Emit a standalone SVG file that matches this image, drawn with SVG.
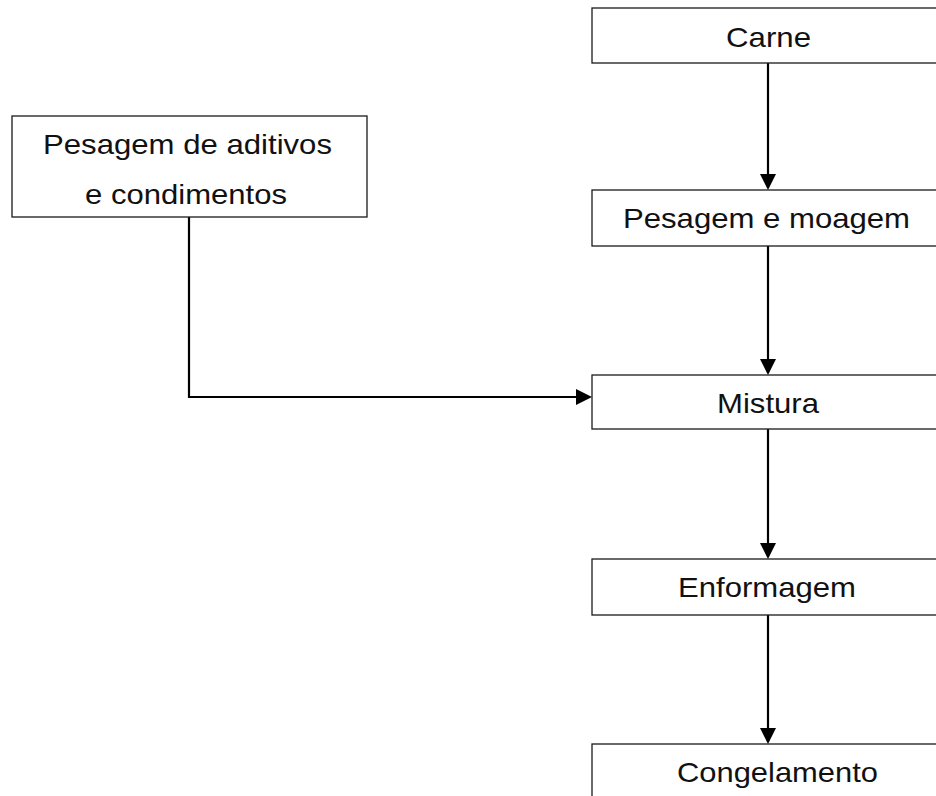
<svg xmlns="http://www.w3.org/2000/svg" width="936" height="796" viewBox="0 0 936 796">
<style>
.box{fill:#fff;stroke:#1a1a1a;stroke-width:1.3}
.lbl{font-family:"Liberation Sans",Arial,sans-serif;font-size:28px;fill:#111;text-anchor:middle}
.con{fill:none;stroke:#000;stroke-width:2.2}
</style>
<defs>
<marker id="ah" viewBox="0 0 16 16" refX="14" refY="8" markerWidth="16" markerHeight="16" markerUnits="userSpaceOnUse" orient="auto">
<path d="M0,0 L16,8 L0,16 Z" fill="#000"/>
</marker>
</defs>
<rect width="936" height="796" fill="#fff"/>
<g id="connectors">
<line class="con" x1="768" y1="63" x2="768" y2="188" marker-end="url(#ah)"/>
<line class="con" x1="768" y1="246" x2="768" y2="373" marker-end="url(#ah)"/>
<line class="con" x1="768" y1="429" x2="768" y2="557" marker-end="url(#ah)"/>
<line class="con" x1="768" y1="615" x2="768" y2="742" marker-end="url(#ah)"/>
<polyline class="con" points="189,217 189,397 590,397" marker-end="url(#ah)"/>
</g>
<g id="carne">
<rect class="box" x="592" y="8" width="352" height="55"/>
<text class="lbl" x="768.5" y="47" textLength="85" lengthAdjust="spacingAndGlyphs">Carne</text>
</g>
<g id="pesagem-moagem">
<rect class="box" x="592" y="190" width="352" height="56"/>
<text class="lbl" x="766.5" y="228" textLength="287" lengthAdjust="spacingAndGlyphs">Pesagem e moagem</text>
</g>
<g id="pesagem-aditivos">
<rect class="box" x="12" y="116" width="355" height="101"/>
<text class="lbl" x="187.5" y="154" textLength="289" lengthAdjust="spacingAndGlyphs">Pesagem de aditivos</text>
<text class="lbl" x="186" y="204" textLength="202" lengthAdjust="spacingAndGlyphs">e condimentos</text>
</g>
<g id="mistura">
<rect class="box" x="592" y="375" width="352" height="54"/>
<text class="lbl" x="768" y="413" textLength="102" lengthAdjust="spacingAndGlyphs">Mistura</text>
</g>
<g id="enformagem">
<rect class="box" x="592" y="559" width="352" height="56"/>
<text class="lbl" x="767" y="597" textLength="178" lengthAdjust="spacingAndGlyphs">Enformagem</text>
</g>
<g id="congelamento">
<rect class="box" x="592" y="744" width="352" height="56"/>
<text class="lbl" x="777.5" y="782" textLength="201" lengthAdjust="spacingAndGlyphs">Congelamento</text>
</g>
</svg>
